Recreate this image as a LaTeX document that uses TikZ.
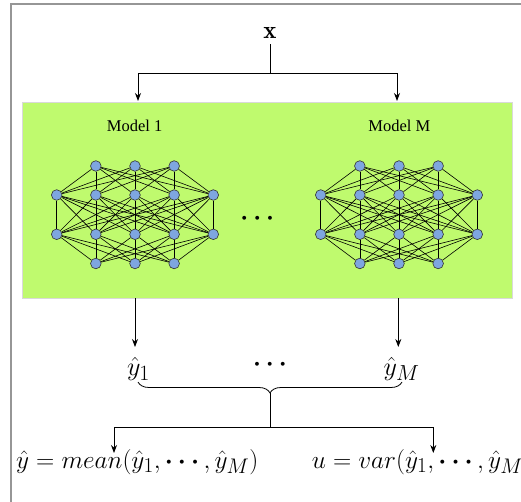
\documentclass[tikz,border=0pt]{standalone}
\usepackage{amsmath}
\usepackage{graphicx}
\usepackage{fontspec}
\newfontfamily\timesfont{Liberation Serif}
\usetikzlibrary{arrows.meta,decorations.pathreplacing}
\definecolor{boxgreen}{RGB}{191,250,110}
\definecolor{neuron}{RGB}{126,166,224}
\definecolor{framegray}{RGB}{150,150,150}
\tikzset{
  neuronnode/.style={circle,draw=black!80,fill=neuron,minimum size=10.6pt,inner sep=0pt,line width=0.6pt},
  synapse/.style={line width=0.6pt,black},
  flow/.style={line width=0.8pt,-{Stealth[length=8pt,width=6pt]}},
  plainline/.style={line width=0.8pt},
  mathlabel/.style={inner sep=0pt,font=\fontsize{24.88}{30}\selectfont},
  modellabel/.style={inner sep=0pt,font=\timesfont\fontsize{16.5}{20}\selectfont},
}
\newcommand{\mydots}{\mathinner{{\boldsymbol{\cdotp}}\mkern3.6mu{\boldsymbol{\cdotp}}\mkern3.6mu{\boldsymbol{\cdotp}}}}
\begin{document}
\begin{tikzpicture}[x=1pt,y=-1pt]
\useasboundingbox (0,0) rectangle (521,502);
\begin{scope}
  \clip (0,0) rectangle (521,502);
  \draw[framegray,line width=1.5pt] (11,4) rectangle (560,540);
\end{scope}
% green box
\node[draw=black!15,fill=boxgreen,minimum width=489.7pt,minimum height=196pt,inner sep=0pt] (box) at (266.85,200) {};
% input
\node[mathlabel,inner sep=6pt] (x) at (270,32.5) {$\mathbf{x}$};
\coordinate (split) at (270,73);
\coordinate (in1) at (138,101);
\coordinate (inM) at (397,101);
\draw[plainline] (x.south) -- (split);
\draw[flow] (split) -| (in1);
\draw[flow] (split) -| (inM);
% labels
\node[modellabel] (lab1) at (134.7,126) {Model 1};
\node[modellabel] (labM) at (399.3,126) {Model M};
% networks
\foreach \netname/\ox in {A/56.7,B/320.7} {
  \foreach \i in {1,2,3} \node[neuronnode] (\netname-1-\i) at (\ox+\i*39.15,166) {};
  \foreach \i in {1,...,5} \node[neuronnode] (\netname-2-\i) at (\ox+\i*39.15-39.15,195) {};
  \foreach \i in {1,...,5} \node[neuronnode] (\netname-3-\i) at (\ox+\i*39.15-39.15,234.3) {};
  \foreach \i in {1,2,3} \node[neuronnode] (\netname-4-\i) at (\ox+\i*39.15,263.5) {};
  \foreach \i in {1,2,3} \foreach \j in {1,...,5} \draw[synapse] (\netname-1-\i) -- (\netname-2-\j);
  \foreach \i in {1,...,5} \foreach \j in {1,...,5} \draw[synapse] (\netname-2-\i) -- (\netname-3-\j);
  \foreach \i in {1,...,5} \foreach \j in {1,2,3} \draw[synapse] (\netname-3-\i) -- (\netname-4-\j);
}
\node[mathlabel,anchor=base] (netdots) at (257.3,224.3) {$\mydots$};
% outputs
\coordinate (out1) at (135,298);
\coordinate (outM) at (398.3,298);
\coordinate (tip1) at (135,347);
\coordinate (tipM) at (398.3,347);
\draw[flow] (out1) -- (tip1);
\draw[flow] (outM) -- (tipM);
\node[mathlabel,anchor=base] (y1) at (138.5,375) {\scalebox{1.05}{$\hat{y}_1$}};
\node[mathlabel,anchor=base] (yM) at (401.5,375) {\scalebox{1.05}{$\hat{y}_M$}};
\node[mathlabel,anchor=base] (ydots) at (270,370.3) {$\mydots$};
% brace
\coordinate (brL) at (138,382);
\coordinate (brR) at (402,382);
\draw[plainline,decorate,decoration={brace,mirror,amplitude=11pt}] (brL) -- (brR);
\coordinate (brtip) at (270,393);
\coordinate (split2) at (270,427);
\coordinate (meanin) at (114,453);
\coordinate (varin) at (433.3,453);
\draw[plainline] (brtip) -- (split2);
\draw[flow] (split2) -| (meanin);
\draw[flow] (split2) -| (varin);
% results
\node[mathlabel,anchor=base west] (mean) at (16,468) {\scalebox{1.018}{$\hat{y} = mean(\hat{y}_1, \mydots, \hat{y}_M)$}};
\node[mathlabel,anchor=base west] (var) at (311.7,468) {\scalebox{1.018}{$u = var(\hat{y}_1, \mydots, \hat{y}_M)$}};
\end{tikzpicture}
\end{document}
